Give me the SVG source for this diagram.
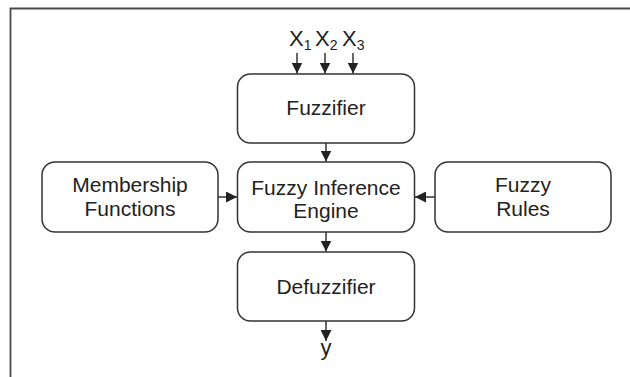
<svg xmlns="http://www.w3.org/2000/svg" width="630" height="377" viewBox="0 0 630 377">
  <defs>
    <marker id="arrow" viewBox="0 0 10 10" refX="10" refY="5" markerWidth="11" markerHeight="11" markerUnits="userSpaceOnUse" orient="auto">
      <path d="M0,0 L10,5 L0,10 Z" fill="#222"/>
    </marker>
    <style>
      .frame { fill: none; stroke: #4a4a4a; stroke-width: 1.8; }
      .box { fill: #fff; stroke: #333; stroke-width: 1.5; }
      .label { font-family: "Liberation Sans", Arial, sans-serif; font-size: 21px; fill: #222; text-anchor: middle; }
      .var { font-family: "Liberation Sans", Arial, sans-serif; font-size: 22px; fill: #222; }
      .sub { font-size: 14px; }
      .conn { fill: none; stroke: #333; stroke-width: 1.5; marker-end: url(#arrow); }
    </style>
  </defs>
  <rect width="630" height="377" fill="#fff"/>

  <!-- outer frame: top and left edges only -->
  <path class="frame" d="M10.5,377 L10.5,8.5 L630,8.5"/>

  <!-- input variables -->
  <g id="inputs">
    <text class="var" x="289" y="46">X<tspan class="sub" dy="4">1</tspan></text>
    <text class="var" x="315" y="46">X<tspan class="sub" dy="4">2</tspan></text>
    <text class="var" x="342" y="46">X<tspan class="sub" dy="4">3</tspan></text>
  </g>

  <g id="fuzzifier">
    <rect class="box" x="237.5" y="74" width="177" height="69" rx="13"/>
    <text class="label" x="326" y="115">Fuzzifier</text>
  </g>

  <g id="membership">
    <rect class="box" x="42" y="162" width="176" height="70" rx="13"/>
    <text class="label" x="130" y="192">Membership</text>
    <text class="label" x="130" y="216">Functions</text>
  </g>

  <g id="inference">
    <rect class="box" x="237.5" y="162" width="177" height="70" rx="13"/>
    <text class="label" x="326" y="195">Fuzzy Inference</text>
    <text class="label" x="326" y="218">Engine</text>
  </g>

  <g id="rules">
    <rect class="box" x="435" y="162" width="176" height="70" rx="13"/>
    <text class="label" x="523" y="192">Fuzzy</text>
    <text class="label" x="523" y="216">Rules</text>
  </g>

  <g id="defuzzifier">
    <rect class="box" x="237.5" y="252" width="177" height="69" rx="13"/>
    <text class="label" x="326" y="294">Defuzzifier</text>
  </g>

  <g id="output">
    <text class="var" x="326" y="355" text-anchor="middle">y</text>
  </g>

  <g id="connectors">
    <line class="conn" x1="297" y1="53" x2="297" y2="73.5"/>
    <line class="conn" x1="325" y1="53" x2="325" y2="73.5"/>
    <line class="conn" x1="353" y1="53" x2="353" y2="73.5"/>
    <line class="conn" x1="326" y1="143" x2="326" y2="161.5"/>
    <line class="conn" x1="218" y1="197" x2="237" y2="197"/>
    <line class="conn" x1="435" y1="197" x2="415" y2="197"/>
    <line class="conn" x1="326" y1="232" x2="326" y2="251.5"/>
    <line class="conn" x1="326" y1="321" x2="326" y2="341"/>
  </g>
</svg>
